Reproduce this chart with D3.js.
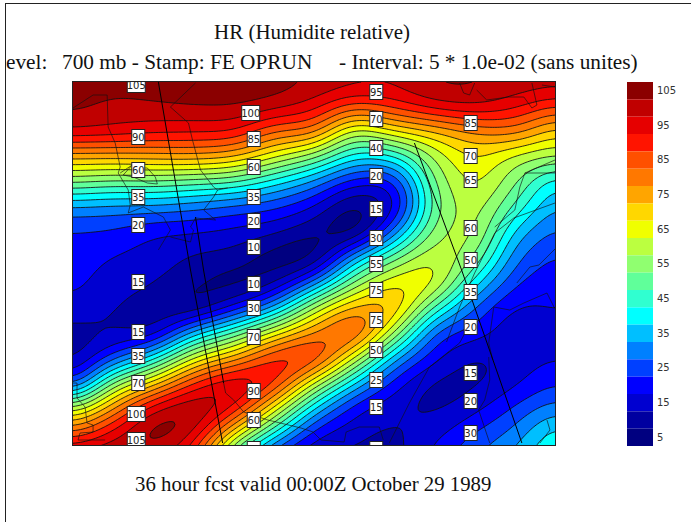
<!DOCTYPE html>
<html>
<head>
<meta charset="utf-8">
<title>HR (Humidite relative)</title>
<script src="https://cdnjs.cloudflare.com/ajax/libs/d3/7.8.5/d3.min.js"></script>
<style>
	html, body { margin: 0; padding: 0; background: #fff; overflow: hidden; }
</style>
</head>
<body>
<div id="chart"></div>
<script>
// Humidity field, one array per grid row, 25 units apart going down.
// Each row has 13 values, 40 units apart going right.
let hr000 = [110, 108, 109, 110, 110, 108, 105, 103, 102, 106, 106, 104, 103.5];
let hr025 = [105.5, 103, 103.5, 104.5, 104.5, 102, 97, 88, 92, 98, 100, 96, 90];
let hr050 = [100, 99, 97, 96, 95, 85, 82, 62, 69, 74, 80, 82, 72];
let hr075 = [76, 76, 77, 78, 75, 66, 56, 42, 44, 61, 70, 63, 60];
let hr100 = [56, 54, 54, 52, 50, 42, 33, 22, 24, 55, 66, 56, 41];
let hr125 = [34, 33, 33, 31, 28, 25.5, 19.5, 9, 18, 52, 62, 49, 35];
let hr150 = [24.5, 24, 20.5, 20, 18.5, 16, 10.5, 7, 32, 57, 61, 39, 29];
let hr175 = [23, 20, 18, 14.5, 13, 7, 8, 35, 53, 64, 55, 32, 24.5];
let hr200 = [21.5, 17, 15.3, 11, 7.5, 13, 31, 55, 69, 67, 43, 26, 22.5];
let hr225 = [18.5, 15.5, 12.5, 9, 20, 35, 60, 76, 75.5, 50, 29.5, 20, 20.3];
let hr250 = [13, 14.5, 15, 36, 50, 66, 80, 88, 61, 29.5, 23, 17, 18];
let hr275 = [13, 26, 42, 64, 76, 91, 92, 66, 37, 22, 14.5, 17.5, 19.5];
let hr300 = [24, 55, 71, 90, 100, 93, 66, 41, 23, 14, 14, 18.5, 24];
let hr325 = [60, 79, 98, 105, 96, 70, 41, 22.5, 16.5, 14, 18, 25.5, 32];
let hr350 = [85, 97, 108, 101, 73, 46, 23, 17, 14.5, 18, 25, 31.5, 42];
let hr375 = [105, 106, 101, 88, 48, 22, 15, 13.5, 13, 22, 30, 37, 46];
let hrRows = [hr000, hr025, hr050, hr075, hr100, hr125, hr150, hr175, hr200, hr225, hr250, hr275, hr300, hr325, hr350, hr375];

// Legend levels and their colours, top to bottom
let legendLevels = [105, 100, 95, 90, 85, 80, 75, 70, 65, 60, 55, 50, 45, 40, 35, 30, 25, 20, 15, 10, 5];
let legendColors = ["#8b0000", "#c00000", "#e60000", "#ff1400", "#ff5000", "#ff7800", "#ffa500", "#ffd700", "#f0ff00", "#bbff40", "#90ff70", "#60ff9a", "#30ffd0", "#00ffff", "#00bfff", "#0080ff", "#0040ff", "#0000ff", "#0000d0", "#0000a0", "#000080"];
let legendTicks = [105, 95, 85, 75, 65, 55, 45, 35, 25, 15, 5];

// Contour labels in four columns: [grid x, grid y, text]
let labelsWest = [[63, 3, "105"], [65, 55, "90"], [65, 88, "60"], [65, 115, "35"], [65, 143, "20"], [65, 200, "15"], [65, 250, "15"], [65, 274, "35"], [65, 301, "70"], [63, 332, "100"], [63, 358, "105"]];
let labelsMiddle = [[177, 31, "100"], [180, 57, "85"], [180, 85, "60"], [180, 115, "35"], [180, 139, "20"], [180, 165, "10"], [180, 202, "10"], [180, 226, "30"], [180, 255, "70"], [180, 309, "90"], [180, 338, "60"], [180, 367, ""]];
let labelsCentre = [[302, 10, "95"], [302, 37, "70"], [302, 66, "40"], [302, 94, "20"], [302, 127, "15"], [302, 156, "30"], [302, 182, "55"], [302, 208, "75"], [302, 238, "75"], [302, 268, "50"], [302, 298, "25"], [302, 325, "15"], [302, 367, ""]];
let labelsEast = [[396, 41, "85"], [396, 74, "70"], [396, 98, "65"], [396, 146, "60"], [396, 178, "50"], [396, 210, "35"], [396, 245, "20"], [396, 291, "15"], [396, 319, "20"], [396, 351, "30"]];

// Base map in grid units
let coastLines = [
	[[0, 26], [20, 13], [34, 13], [35, 45], [42, 61], [47, 85], [45, 91], [55, 108], [57, 123], [55, 131], [70, 125], [90, 135], [97, 148], [85, 168]],
	[[47, 91], [59, 83], [50, 93], [60, 95], [74, 101], [84, 102], [82, 95], [74, 86], [70, 86]],
	[[97, 155], [117, 160], [120, 148], [117, 145], [122, 136], [142, 138], [130, 128], [140, 115], [144, 108], [154, 106]],
	[[122, 1], [97, 25], [115, 41], [119, 58], [127, 88], [140, 105], [144, 108]],
	[[0, 301], [4, 301], [4, 316], [12, 325], [14, 341], [20, 343], [20, 350], [7, 351], [5, 358], [27, 358], [32, 358]],
	[[150, 301], [152, 311], [160, 318], [170, 330], [194, 338], [227, 346], [239, 350], [247, 358], [270, 360], [272, 350], [285, 345], [305, 345], [309, 358]],
	[[315, 361], [335, 321], [355, 285], [385, 261], [392, 248]],
	[[414, 275], [415, 298], [410, 318], [404, 328], [415, 361]],
	[[419, 225], [414, 261], [418, 278]],
	[[419, 225], [435, 228], [449, 221], [472, 211], [479, 225], [482, 228]],
	[[480, 121], [439, 136], [420, 151], [410, 171], [400, 191], [385, 225], [372, 260]],
	[[480, 91], [450, 91], [445, 105], [440, 128], [420, 145]],
	[[480, 78], [450, 91]],
	[[442, 201], [455, 185], [464, 183], [482, 165]],
	[[385, 1], [389, 11], [395, 13], [400, 1]],
	[[402, 8], [412, 18], [434, 15], [449, 15], [457, 26], [462, 23], [457, 1]],
	[[467, 3], [480, 5]],
	[[472, 338], [475, 348], [465, 361]]
];
let meridianLines = [
	[[85, 0], [117, 188], [149, 361]],
	[[122, 135], [130, 188], [150, 301]],
	[[340, 61], [387, 188], [447, 361]]
];

var margin = {top: 82, right: 136, bottom: 77, left: 73};
var pageWidth = 691;
var pageHeight = 522;
var plotRight = pageWidth - margin.right;
var plotBottom = pageHeight - margin.bottom;
var cols = hr000.length;
var rows = hrRows.length;

// Scales from grid units to the page
var x = d3.scaleLinear().domain([0, 480]).range([margin.left, plotRight]);
var y = d3.scaleLinear().domain([0, 375]).range([margin.top, margin.top + 375]);

var color = d3.scaleThreshold()
	.domain(legendLevels.slice().reverse().slice(1))
	.range(legendColors.slice().reverse());

// Catmull-Rom through the read values, so that the isolines come out as smooth as the original
function cubic(a, b, c, d, t) {
	return b + 0.5 * t * (c - a + t * (2 * a - 5 * b + 4 * c - d + t * (3 * (b - c) + d - a)));
}

function refineGrid(stepsX, stepsY) {
	let n = (cols - 1) * stepsX + 1;
	let m = (rows - 1) * stepsY + 1;
	let out = new Array(n * m);
	let at = (r, c) => hrRows[Math.max(0, Math.min(rows - 1, r))][Math.max(0, Math.min(cols - 1, c))];
	for (let j = 0; j < m; j++) {
		let r = Math.min(rows - 2, Math.floor(j / stepsY));
		let tr = j / stepsY - r;
		for (let i = 0; i < n; i++) {
			let c = Math.min(cols - 2, Math.floor(i / stepsX));
			let tc = i / stepsX - c;
			let across = [-1, 0, 1, 2].map(k => cubic(at(r + k, c - 1), at(r + k, c), at(r + k, c + 1), at(r + k, c + 2), tc));
			out[j * n + i] = cubic(across[0], across[1], across[2], across[3], tr);
		}
	}
	return {values: out, n: n, m: m};
}

var stepsX = 16;
var stepsY = 10;
var fine = refineGrid(stepsX, stepsY);

// The hand-read grid leaves small ripples along the diagonal bands, a light blur takes them out
d3.blur2({data: fine.values, width: fine.n, height: fine.m}, 4);

var svg = d3.select("#chart").append("svg")
	.attr("width", pageWidth)
	.attr("height", pageHeight);

svg.append("defs").append("clipPath").attr("id", "plot-clip")
	.append("rect")
	.attr("x", margin.left)
	.attr("y", margin.top)
	.attr("width", plotRight - margin.left)
	.attr("height", plotBottom - margin.top);

// Page frame, only the top and left sides show
svg.append("line").attr("x1", 5).attr("x2", pageWidth).attr("y1", 3.5).attr("y2", 3.5).attr("stroke", "#222");
svg.append("line").attr("x1", 5.5).attr("x2", 5.5).attr("y1", 3).attr("y2", pageHeight).attr("stroke", "#222");

var plot = svg.append("g").attr("clip-path", "url(#plot-clip)");

plot.append("rect")
	.attr("x", margin.left)
	.attr("y", margin.top)
	.attr("width", plotRight - margin.left)
	.attr("height", plotBottom - margin.top)
	.attr("fill", color(0));

// Filled isobands, low to high so each level paints over the one below
var thresholds = legendLevels.slice().reverse().slice(1);
var contours = d3.contours()
	.size([fine.n, fine.m])
	.thresholds(thresholds)(fine.values);

var gridPath = d3.geoPath(d3.geoTransform({
	point: function(px, py) {
		this.stream.point(x((px - 0.5) * 40 / stepsX), y((py - 0.5) * 25 / stepsY));
	}
}));

plot.selectAll("path.band")
	.data(contours)
	.enter().append("path")
	.attr("class", "band")
	.attr("d", gridPath)
	.attr("fill", d => color(d.value))
	.attr("stroke", "#111")
	.attr("stroke-opacity", 0.85)
	.attr("stroke-width", 1);

// Base map
var mapLine = d3.line().x(d => x(d[0])).y(d => y(d[1]));

plot.selectAll("path.coast")
	.data(coastLines)
	.enter().append("path")
	.attr("class", "coast")
	.attr("d", mapLine)
	.attr("fill", "none")
	.attr("stroke", "#111")
	.attr("stroke-opacity", 0.8)
	.attr("stroke-width", 0.8);

plot.selectAll("path.meridian")
	.data(meridianLines)
	.enter().append("path")
	.attr("class", "meridian")
	.attr("d", mapLine)
	.attr("fill", "none")
	.attr("stroke", "#000")
	.attr("stroke-width", 1);

// Contour labels, boxed in white
var labels = plot.selectAll("g.label")
	.data(labelsWest.concat(labelsMiddle, labelsCentre, labelsEast))
	.enter().append("g")
	.attr("class", "label")
	.attr("transform", d => "translate(" + x(d[0]) + "," + y(d[1]) + ")");

labels.append("rect")
	.attr("x", d => d[2].length > 2 ? -9 : -6.5)
	.attr("y", -7.5)
	.attr("width", d => d[2].length > 2 ? 18 : 13)
	.attr("height", 15)
	.attr("fill", "#fff")
	.attr("stroke", "#222")
	.attr("stroke-width", 1);

labels.filter(d => d[2] !== "").append("text")
	.attr("text-anchor", "middle")
	.attr("dy", "0.36em")
	.style("font-family", "DejaVu Sans")
	.style("font-size", "10px")
	.attr("fill", "#222")
	.text(d => d[2]);

// Plot border
svg.append("rect")
	.attr("x", margin.left - 0.5)
	.attr("y", margin.top - 0.5)
	.attr("width", plotRight - margin.left + 1)
	.attr("height", plotBottom - margin.top + 1)
	.attr("fill", "none")
	.attr("stroke", "#222");

// Colour legend
var legendScale = d3.scaleBand()
	.domain(legendLevels)
	.range([82, 446]);

svg.selectAll("rect.swatch")
	.data(legendLevels)
	.enter().append("rect")
	.attr("class", "swatch")
	.attr("x", 627)
	.attr("width", 26)
	.attr("y", d => legendScale(d))
	.attr("height", legendScale.bandwidth())
	.attr("fill", (d, i) => legendColors[i]);

var legendAxis = d3.axisRight(legendScale)
	.tickValues(legendTicks)
	.tickSize(0)
	.tickPadding(4);

svg.append("g")
	.attr("transform", "translate(653,0)")
	.call(legendAxis)
	.call(g => g.select(".domain").remove())
	.call(g => g.selectAll("text")
		.style("font-family", "DejaVu Sans")
		.style("font-size", "10px")
		.attr("fill", "#333"));

// Titles
function addTitle(txt, tx, ty, size) {
	return svg.append("text")
		.attr("x", tx)
		.attr("y", ty)
		.style("font-family", "Liberation Serif")
		.style("font-size", size + "px")
		.attr("fill", "#111")
		.text(txt);
}

addTitle("HR (Humidite relative)", 214, 39, 21);
addTitle("evel:", 6, 69, 21.3);
addTitle("700 mb - Stamp: FE OPRUN", 62, 69, 21.3);
addTitle("- Interval: 5 * 1.0e-02 (sans unites)", 339, 69, 21.3);
addTitle("36 hour fcst valid 00:00Z October 29 1989", 135, 491, 20.8);
</script>
</body>
</html>
